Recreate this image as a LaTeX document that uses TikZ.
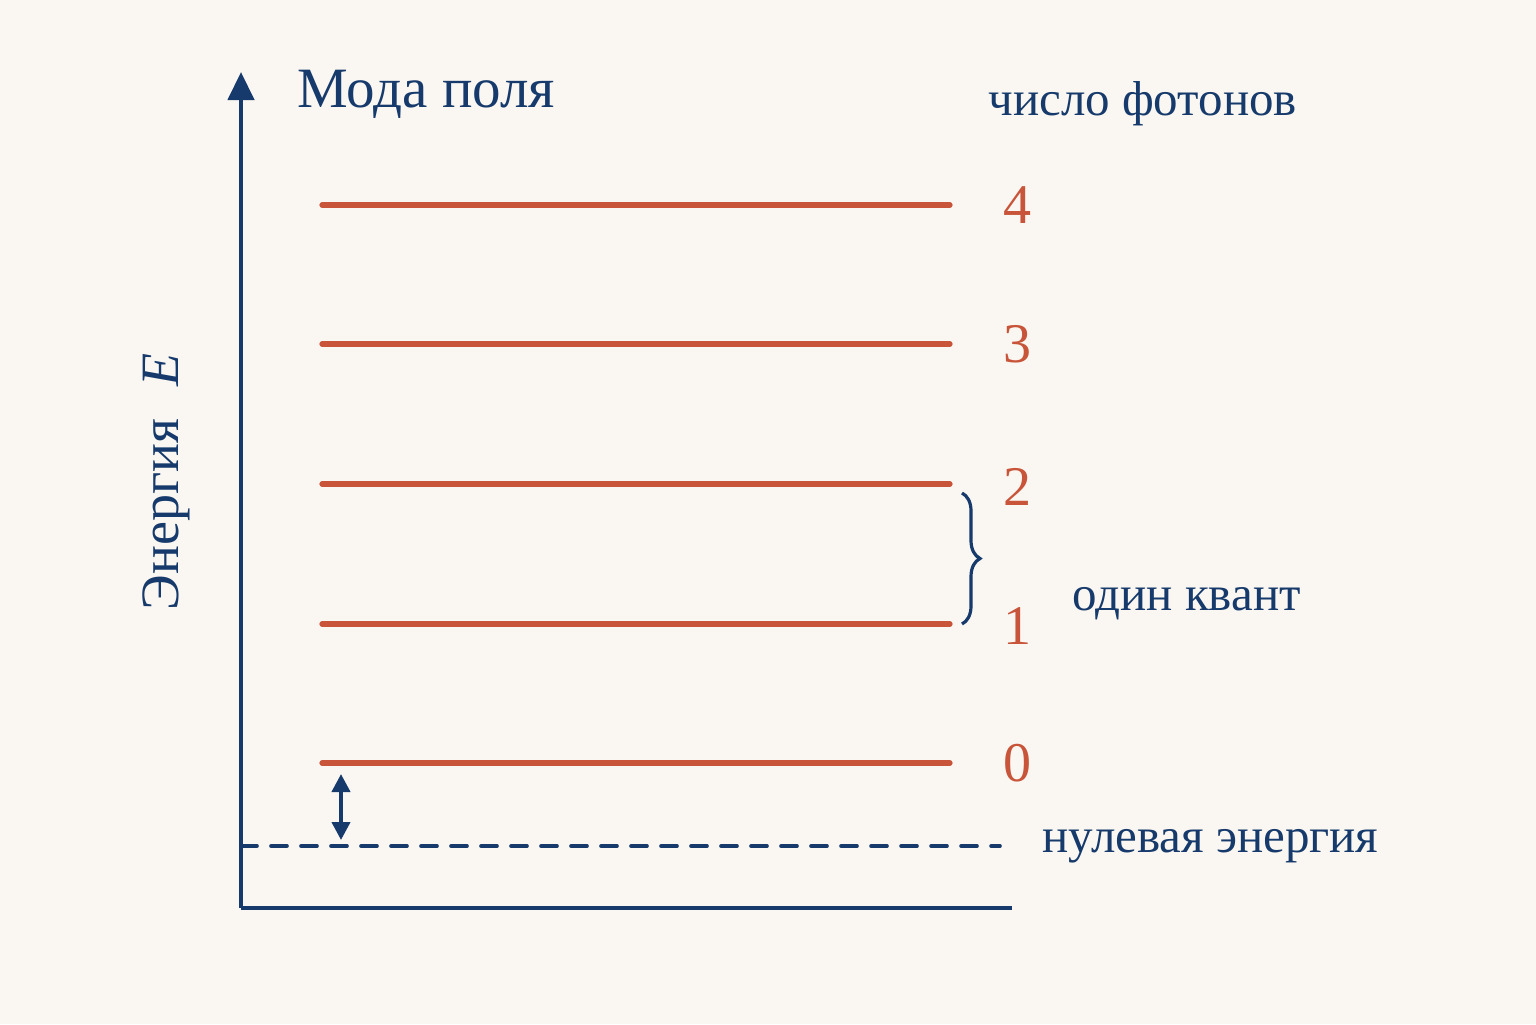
\documentclass[tikz,border=0pt]{standalone}
\usepackage{fontspec}
\setmainfont{Liberation Serif}
\usetikzlibrary{arrows.meta,decorations.pathreplacing}
\definecolor{bg}{HTML}{FAF7F2}
\definecolor{navy}{HTML}{163A6B}
\definecolor{rust}{HTML}{C8553A}
\tikzset{
  level/.style={draw=rust,line width=2.6pt,line cap=round},
  axis/.style={draw=navy,line width=2.2pt},
  lvlabel/.style={text=rust,font=\fontsize{28}{30}\selectfont,inner sep=0pt},
  navytext/.style={text=navy,inner sep=0pt},
}
\begin{document}
\begin{tikzpicture}[x=0.5pt,y=-0.5pt]
\fill[bg] (0,0) rectangle (1536,1024);
\useasboundingbox (0,0) rectangle (1536,1024);
% axes
\coordinate (O) at (241,908);
\coordinate (Ytop) at (241,72);
\coordinate (Xend) at (1012,908);
\draw[axis,-{Triangle[length=14pt,width=13pt]}] (O) -- (Ytop);
\draw[axis] (O) -- (Xend);
% levels
\foreach \n/\y/\ly in {4/205/205,3/344/344,2/484/487,1/624/626,0/763/763}{
  \coordinate (L\n a) at (322,\y);
  \coordinate (L\n b) at (950,\y);
  \draw[level] (L\n a) -- (L\n b);
  \node[lvlabel] (N\n) at (1017,\ly) {\n};
}
% dashed zero energy
\coordinate (Da) at (241,846);
\coordinate (Db) at (1000,846);
\draw[draw=navy,line width=1.8pt,dash pattern=on 8pt off 7pt,line cap=round] (Da) -- (Db);
% double arrow
\coordinate (Aa) at (341,774);
\coordinate (Ab) at (341,840);
\draw[navy,line width=2pt,{Triangle[length=9pt,width=9pt]}-{Triangle[length=9pt,width=9pt]}] (Aa) -- (Ab);
% brace
\coordinate (Ba) at (962,493);
\coordinate (Bb) at (962,624);
\draw[navy,line width=1.6pt,decorate,decoration={brace,amplitude=9pt}] (Ba) -- (Bb);
% texts
\node[navytext,font=\fontsize{28.5}{30}\selectfont,anchor=base west] (title) at (297,107) {Мода поля};
\node[navytext,font=\fontsize{24.5}{28}\selectfont,anchor=base west] (num) at (988,115) {число фотонов};
\node[navytext,font=\fontsize{24.5}{28}\selectfont,anchor=base west] (quant) at (1072,610) {один квант};
\node[navytext,font=\fontsize{24.5}{28}\selectfont,anchor=base west] (zero) at (1042,852) {нулевая энергия};
\node[navytext,font=\fontsize{27}{30}\selectfont,rotate=90] (elab) at (166,482) {Энергия\hspace{0.6em}\textit{E}};
\end{tikzpicture}
\end{document}
